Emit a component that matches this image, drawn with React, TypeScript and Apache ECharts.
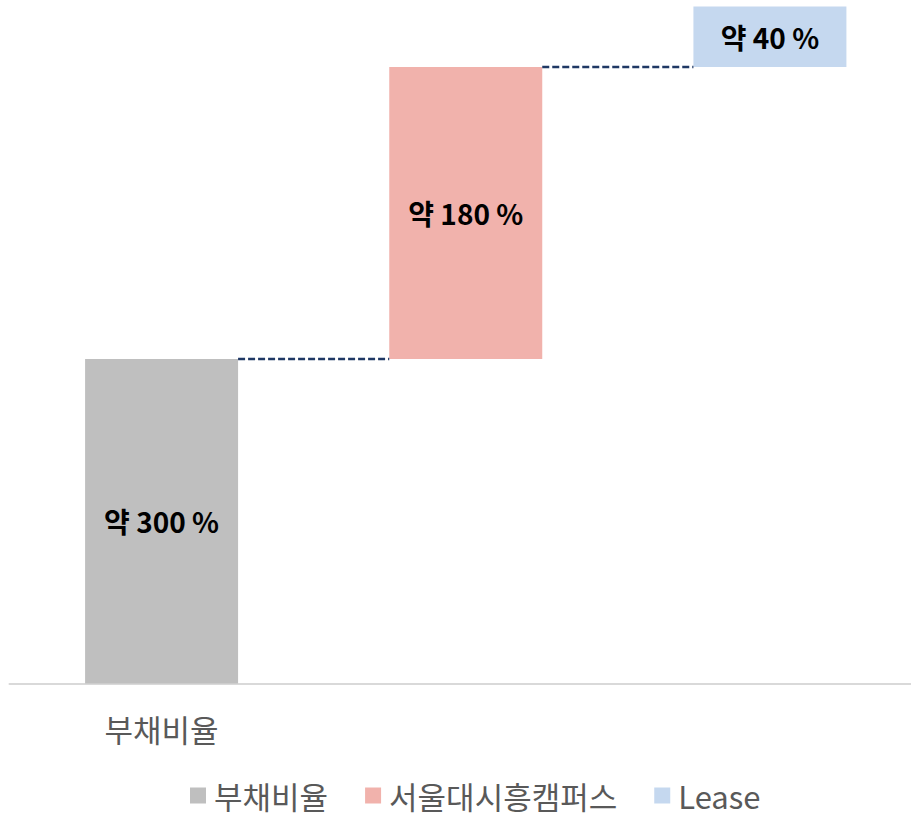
import React, { useEffect, useRef } from "react";
import * as echarts from "echarts";

const categories = ["부채비율", "", ""];
const seriesNames = ["부채비율", "서울대시흥캠퍼스", "Lease"];
const stepValues = [300, 270, 56];
const stepLabels = ["약 300 %", "약 180 %", "약 40 %"];
const colors = ["#bfbfbf", "#f1b2ac", "#c5d8ef"];

export default function App() {
  const ref = useRef<HTMLDivElement>(null);
  useEffect(() => {
    document.body.style.margin = "0";
    document.body.style.overflow = "hidden";
    document.documentElement.style.overflow = "hidden";
    if (!ref.current) return;
    const chart = echarts.init(ref.current, undefined, { renderer: "svg" });
    const font = "'Noto Sans CJK KR', 'Noto Sans', sans-serif";
    const bases: number[] = [];
    let acc = 0;
    stepValues.forEach((v) => {
      bases.push(acc);
      acc += v;
    });
    const connectors = stepValues.slice(0, -1).map((v, i) => [i, bases[i] + v]);

    const barSeries = seriesNames.map((name, i) => ({
      name,
      type: "bar",
      stack: "w",
      barWidth: 153,
      itemStyle: { color: colors[i] },
      data: categories.map((_, j) => (j === i ? stepValues[i] : "-")),
      label: {
        show: true,
        position: "inside",
        formatter: () => stepLabels[i],
        fontSize: 28,
        fontWeight: "bold",
        fontFamily: font,
        color: "#000",
      },
    }));

    chart.setOption({
      animation: false,
      grid: { left: 9.5, right: 0, top: 6.4, bottom: 130.5 },
      legend: {
        data: seriesNames,
        left: 190,
        top: 780,
        padding: 0,
        itemWidth: 16,
        itemHeight: 16,
        itemGap: 37,
        icon: "rect",
        textStyle: {
          fontSize: 31,
          lineHeight: 30,
          fontFamily: font,
          color: "#595959",
          padding: [0, 0, 0, 3],
        },
      },
      xAxis: {
        type: "category",
        data: categories,
        axisLine: { lineStyle: { color: "#d9d9d9", width: 2 } },
        axisTick: { show: false },
        axisLabel: {
          margin: 29,
          fontSize: 31,
          fontFamily: font,
          color: "#595959",
        },
      },
      yAxis: {
        type: "value",
        min: 0,
        max: 626,
        show: false,
        splitLine: { show: false },
      },
      series: [
        {
          name: "base",
          type: "bar",
          stack: "w",
          barWidth: 153,
          itemStyle: { color: "transparent" },
          emphasis: { disabled: true },
          data: bases,
        },
        ...barSeries,
        {
          name: "connector",
          type: "custom",
          data: connectors,
          encode: { x: 0, y: 1 },
          z: 5,
          renderItem: (params: any, api: any) => {
            const i = api.value(0);
            const v = api.value(1);
            const p1 = api.coord([i, v]);
            const p2 = api.coord([i + 1, v]);
            const half = 153 / 2;
            return {
              type: "line",
              shape: { x1: p1[0] + half, y1: p1[1], x2: p2[0] - half, y2: p2[1] },
              style: { stroke: "#1f3864", lineWidth: 2.5, lineDash: [7, 3] },
            };
          },
        },
      ],
    });
    return () => chart.dispose();
  }, []);
  return <div ref={ref} style={{ width: 922, height: 814 }} />;
}
